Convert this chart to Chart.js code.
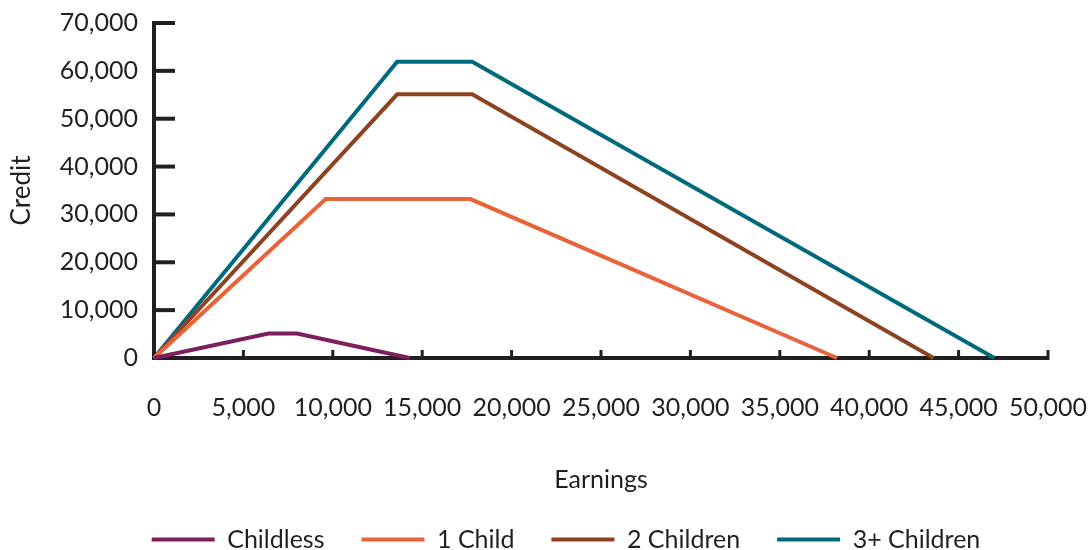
<!DOCTYPE html>
<html>
<head>
<meta charset="utf-8">
<script src="https://cdn.jsdelivr.net/npm/chart.js@4"></script>
<style>
  html, body { margin: 0; padding: 0; background: #fff; }
  #wrap { width: 1088px; height: 550px; }
</style>
</head>
<body>
<div id="wrap"><canvas id="chart"></canvas></div>
<script>
// earnings / credit break points
var childlessX = [0, 6400, 8000, 14300];
var childlessY = [0, 5100, 5100, 0];
var oneChildX = [0, 9600, 17700, 38200];
var oneChildY = [0, 33200, 33200, 0];
var twoChildX = [0, 13600, 17800, 43600];
var twoChildY = [0, 55100, 55100, 0];
var threeChildX = [0, 13600, 17800, 47000];
var threeChildY = [0, 61900, 61900, 0];

var seriesNames = ["Childless", "1 Child", "2 Children", "3+ Children"];
var seriesColors = ["#7b1f5d", "#e8633a", "#8d4321", "#006a7c"];

var xTicks = [0, 5000, 10000, 15000, 20000, 25000, 30000, 35000, 40000, 45000, 50000];
var yTicks = [0, 10000, 20000, 30000, 40000, 50000, 60000, 70000];

var ink = "#231f20";
var fontName = "Lato, 'Open Sans', sans-serif";

function toPoints(xs, ys) {
  var pts = [];
  for (var i = 0; i < xs.length; i++) pts.push({ x: xs[i], y: ys[i] });
  return pts;
}

var allX = [childlessX, oneChildX, twoChildX, threeChildX];
var allY = [childlessY, oneChildY, twoChildY, threeChildY];
var datasets = [];
for (var i = 0; i < seriesNames.length; i++) {
  datasets.push({
    label: seriesNames[i],
    data: toPoints(allX[i], allY[i]),
    borderColor: seriesColors[i],
    backgroundColor: seriesColors[i],
    borderWidth: 4,
    pointRadius: 0,
    tension: 0,
    clip: false
  });
}

// tick marks that point into the plot, like the original
var innerTicks = {
  id: "innerTicks",
  afterDraw: function (chart) {
    var ctx = chart.ctx;
    var area = chart.chartArea;
    var xs = chart.scales.x, ys = chart.scales.y;
    ctx.save();
    ctx.strokeStyle = ink;
    ctx.lineWidth = 4;
    yTicks.forEach(function (v) {
      if (v === 0) return;
      var py = ys.getPixelForValue(v);
      ctx.beginPath();
      ctx.moveTo(area.left - 2, py);
      ctx.lineTo(area.left + 21, py);
      ctx.stroke();
    });
    ctx.lineWidth = 3;
    xTicks.forEach(function (v) {
      if (v === 0) return;
      var px = xs.getPixelForValue(v);
      ctx.beginPath();
      ctx.moveTo(px, area.bottom + 2);
      ctx.lineTo(px, area.bottom - 8);
      ctx.stroke();
    });
    ctx.restore();
  }
};

// keep the legend short so it sits near the bottom edge, and nudge it right
var legendPlace = {
  id: "legendPlace",
  beforeInit: function (chart) {
    var fit = chart.legend.fit;
    chart.legend.fit = function () {
      fit.bind(chart.legend)();
      this.height = 60;
    };
  },
  afterLayout: function (chart) {
    chart.legend.left += 22;
    chart.legend.right += 22;
  }
};

new Chart(document.getElementById("chart"), {
  type: "line",
  data: { datasets: datasets },
  plugins: [innerTicks, legendPlace],
  options: {
    responsive: true,
    maintainAspectRatio: false,
    animation: false,
    layout: { padding: 0 },
    plugins: {
      tooltip: { enabled: false },
      legend: {
        position: "bottom",
        labels: {
          color: ink,
          font: { family: fontName, size: 25 },
          boxWidth: 63,
          boxHeight: 4,
          padding: 37,
          generateLabels: function (chart) {
            return chart.data.datasets.map(function (d, i) {
              return {
                text: d.label,
                fillStyle: d.borderColor,
                strokeStyle: d.borderColor,
                lineWidth: 0,
                fontColor: ink,
                datasetIndex: i
              };
            });
          }
        }
      }
    },
    scales: {
      x: {
        type: "linear",
        min: 0,
        max: 50000,
        afterBuildTicks: function (scale) {
          scale.ticks = xTicks.map(function (v) { return { value: v }; });
        },
        afterFit: function (scale) {
          scale.height = 132;
          scale.paddingRight = 40;
          scale.paddingLeft = 0;
        },
        grid: { display: false, drawTicks: false },
        border: { display: true, color: ink, width: 4 },
        ticks: {
          color: ink,
          font: { family: fontName, size: 25 },
          padding: 35,
          maxRotation: 0,
          autoSkip: false,
          callback: function (v) { return v.toLocaleString("en-US"); }
        },
        title: {
          display: true,
          text: "Earnings",
          color: ink,
          font: { family: fontName, size: 25 },
          padding: { top: 0, bottom: -5 }
        }
      },
      y: {
        min: 0,
        max: 70000,
        afterBuildTicks: function (scale) {
          scale.ticks = yTicks.map(function (v) { return { value: v }; });
        },
        afterFit: function (scale) {
          scale.width = 154;
          scale.paddingTop = 23;
          scale.paddingBottom = 0;
        },
        grid: { display: false, drawTicks: false },
        border: { display: true, color: ink, width: 4 },
        ticks: {
          color: ink,
          font: { family: fontName, size: 25 },
          padding: 16,
          callback: function (v) { return v.toLocaleString("en-US"); }
        },
        title: {
          display: true,
          text: "Credit",
          color: ink,
          font: { family: fontName, size: 26 },
          padding: { top: 6, bottom: 0 }
        }
      }
    }
  }
});
</script>
</body>
</html>
